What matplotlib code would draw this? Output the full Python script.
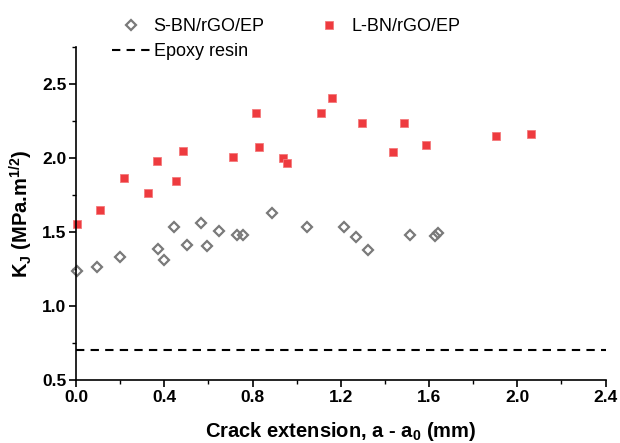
import matplotlib
matplotlib.use("Agg")
import matplotlib.pyplot as plt
from matplotlib.ticker import MultipleLocator, FormatStrFormatter

plt.rcParams['font.family'] = ['Liberation Sans', 'DejaVu Sans']
plt.rcParams['mathtext.fontset'] = 'custom'
plt.rcParams['mathtext.rm'] = 'Liberation Sans:bold'
plt.rcParams['mathtext.it'] = 'Liberation Sans:bold'
plt.rcParams['mathtext.bf'] = 'Liberation Sans:bold'
plt.rcParams['mathtext.default'] = 'bf'

# S-BN/rGO/EP
s_x = [0.006, 0.094, 0.201, 0.370, 0.399, 0.443, 0.502, 0.565, 0.594, 0.648,
       0.728, 0.757, 0.887, 1.048, 1.214, 1.267, 1.322, 1.514, 1.627, 1.642]
s_y = [1.239, 1.263, 1.333, 1.385, 1.311, 1.534, 1.414, 1.563, 1.403, 1.507,
       1.480, 1.480, 1.626, 1.534, 1.534, 1.468, 1.380, 1.480, 1.475, 1.493]

# L-BN/rGO/EP
l_x = [0.003, 0.109, 0.216, 0.326, 0.367, 0.452, 0.485, 0.712, 0.815, 0.831,
       0.938, 0.955, 1.112, 1.159, 1.298, 1.436, 1.486, 1.588, 1.904, 2.064]
l_y = [1.552, 1.647, 1.865, 1.761, 1.982, 1.847, 2.047, 2.007, 2.306, 2.077,
       2.002, 1.968, 2.306, 2.407, 2.236, 2.039, 2.236, 2.090, 2.147, 2.159]

epoxy_k = 0.70

series_labels = ['S-BN/rGO/EP', 'L-BN/rGO/EP', 'Epoxy resin']

fig = plt.figure(figsize=(6.2, 4.43), dpi=100)
ax = fig.add_axes([76/620, 1-380/443, (605.5-76)/620, (380-47)/443])

h_s, = ax.plot(s_x, s_y, linestyle='none', marker='D', markersize=5.6,
               markerfacecolor='none', markeredgecolor='#7a7a7a', markeredgewidth=1.6,
               label=series_labels[0], clip_on=False)
h_l, = ax.plot(l_x, l_y, linestyle='none', marker='s', markersize=6,
               markerfacecolor='#ee3b3f', markeredgecolor='#f47a7c', markeredgewidth=0.6,
               label=series_labels[1], clip_on=False)
h_e = ax.axhline(epoxy_k, color='black', linewidth=1.5, dashes=(4, 3), label=series_labels[2])

ax.set_xlim(0, 2.4)
ax.set_ylim(0.5, 2.75)
ax.xaxis.set_major_locator(MultipleLocator(0.4))
ax.xaxis.set_minor_locator(MultipleLocator(0.2))
ax.yaxis.set_major_locator(MultipleLocator(0.5))
ax.yaxis.set_minor_locator(MultipleLocator(0.25))
ax.xaxis.set_major_formatter(FormatStrFormatter('%.1f'))
ax.yaxis.set_major_formatter(FormatStrFormatter('%.1f'))

for side in ['top', 'right']:
    ax.spines[side].set_visible(False)
for side in ['left', 'bottom']:
    ax.spines[side].set_linewidth(1.2)

ax.tick_params(which='major', direction='out', length=5, width=1.2, labelsize=12.5, pad=2)
ax.tick_params(which='minor', direction='out', length=3, width=1.0)
for lab in ax.get_xticklabels() + ax.get_yticklabels():
    lab.set_fontweight('bold')

ax.set_xlabel('Crack extension, a - a$_0$ (mm)', fontsize=14.5, fontweight='bold', labelpad=11)
ax.set_ylabel('K$_J$ (MPa.m$^{1/2}$)', fontsize=14.5, fontweight='bold', labelpad=5)

leg = fig.legend(handles=[h_s, h_e, h_l], labels=[series_labels[0], series_labels[2], series_labels[1]],
                 ncol=2, loc='upper left', bbox_to_anchor=(112/620, 1-18/443),
                 frameon=False, fontsize=13, handlelength=2.1, handletextpad=0.2,
                 columnspacing=2.5, labelspacing=0.45, borderpad=0, borderaxespad=0)

fig.savefig('out.png', dpi=100)
